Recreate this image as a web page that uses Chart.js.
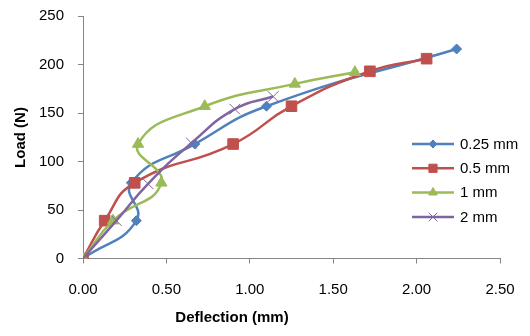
<!DOCTYPE html>
<html><head><meta charset="utf-8">
<script src="https://cdn.jsdelivr.net/npm/chart.js@4/dist/chart.umd.min.js"></script>
<style>html,body{margin:0;padding:0;background:#fff;}canvas{display:block;}</style>
</head><body>
<canvas id="c" width="530" height="336"></canvas>
<script>
// ---- data ----
const seriesNames = ['0.25 mm', '0.5 mm', '1 mm', '2 mm'];
const deflection025 = [0, 0.32, 0.29, 0.67, 1.10, 2.24];
const load025       = [0, 39, 78, 118, 157, 216];
const deflection05  = [0, 0.13, 0.31, 0.90, 1.25, 1.72, 2.06];
const load05        = [0, 39, 78, 118, 157, 193, 206];
const deflection1   = [0, 0.18, 0.47, 0.33, 0.73, 1.27, 1.63];
const load1         = [0, 39, 78, 118, 157, 180, 192];
const deflection2   = [0, 0.20, 0.39, 0.65, 0.91, 1.14];
const load2         = [0, 39, 77, 119, 154, 167];
const xTickValues = [0, 0.5, 1.0, 1.5, 2.0, 2.5];
const yTickValues = [0, 50, 100, 150, 200, 250];
const xTitle = 'Deflection (mm)';
const yTitle = 'Load (N)';

// ---- styling ----
const FONT = '"Liberation Sans", Arial, sans-serif';
const colors = ['#4F81BD', '#C0504D', '#9BBB59', '#8064A2'];
const styles = ['rectRot', 'rect', 'triangle', 'crossRot'];
const radii = [5, 7.5, 6.5, 7.5];
const legendRadii = [4, 5.8, 5, 6];
const orders = [3, 2, 1, 0];

function pts(xs, ys) { return xs.map((x, i) => ({ x: x, y: ys[i] })); }
const seriesData = [
  pts(deflection025, load025),
  pts(deflection05, load05),
  pts(deflection1, load1),
  pts(deflection2, load2)
];

const datasets = seriesData.map((d, i) => ({
  label: seriesNames[i],
  data: d,
  showLine: true,
  tension: 0.5,
  borderColor: colors[i],
  borderWidth: 2.5,
  backgroundColor: colors[i],
  pointStyle: styles[i],
  pointRadius: radii[i],
  pointBackgroundColor: colors[i],
  pointBorderColor: colors[i],
  pointBorderWidth: 1,
  order: orders[i]
}));

const overlay = {
  id: 'overlay',
  afterDraw(chart) {
    const ctx = chart.ctx;
    ctx.save();
    // legend
    const rowY = [144, 168.3, 192.5, 217];
    for (let i = 0; i < seriesNames.length; i++) {
      const y = rowY[i];
      ctx.strokeStyle = colors[i];
      ctx.lineWidth = 2.5;
      ctx.beginPath(); ctx.moveTo(412, y); ctx.lineTo(454, y); ctx.stroke();
      const opts = { pointStyle: styles[i], radius: legendRadii[i], borderWidth: 1, rotation: 0 };
      ctx.fillStyle = colors[i];
      ctx.strokeStyle = colors[i];
      ctx.lineWidth = 1;
      Chart.helpers.drawPoint(ctx, opts, 433, y);
      ctx.fillStyle = '#000';
      ctx.font = '15px ' + FONT;
      ctx.textAlign = 'left';
      ctx.textBaseline = 'middle';
      ctx.fillText(seriesNames[i], 460, y + 0.5);
    }
    // axis titles
    ctx.fillStyle = '#000';
    ctx.font = 'bold 15px ' + FONT;
    ctx.textAlign = 'center';
    ctx.textBaseline = 'alphabetic';
    ctx.fillText(xTitle, 232, 322);
    ctx.translate(25, 137.5);
    ctx.rotate(-Math.PI / 2);
    ctx.fillText(yTitle, 0, 0);
    ctx.restore();
  }
};

Chart.defaults.font.family = FONT;
Chart.defaults.font.size = 15;
Chart.defaults.color = '#000';

new Chart(document.getElementById('c'), {
  type: 'scatter',
  data: { datasets: datasets },
  options: {
    responsive: false,
    animation: false,
    layout: { padding: { top: 16, right: 30, left: 0, bottom: 0 } },
    plugins: { legend: { display: false }, tooltip: { enabled: false } },
    scales: {
      x: {
        type: 'linear', min: 0, max: 2.5,
        afterBuildTicks(s) { s.ticks = xTickValues.map(v => ({ value: v })); },
        afterFit(s) { s.height = 77.5; s.paddingLeft = 0; s.paddingRight = 0; },
        ticks: { padding: 17, callback: v => Number(v).toFixed(2), maxRotation: 0 },
        grid: { drawOnChartArea: false, drawTicks: true, tickLength: 5, color: '#868686' },
        border: { color: '#868686', width: 1 }
      },
      y: {
        type: 'linear', min: 0, max: 250,
        afterBuildTicks(s) { s.ticks = yTickValues.map(v => ({ value: v })); },
        afterFit(s) { s.width = 83; s.paddingTop = 0; s.paddingBottom = 0; },
        ticks: { padding: 14 },
        grid: { drawOnChartArea: false, drawTicks: true, tickLength: 5, color: '#868686' },
        border: { color: '#868686', width: 1 }
      }
    }
  },
  plugins: [overlay]
});
</script>
</body></html>
